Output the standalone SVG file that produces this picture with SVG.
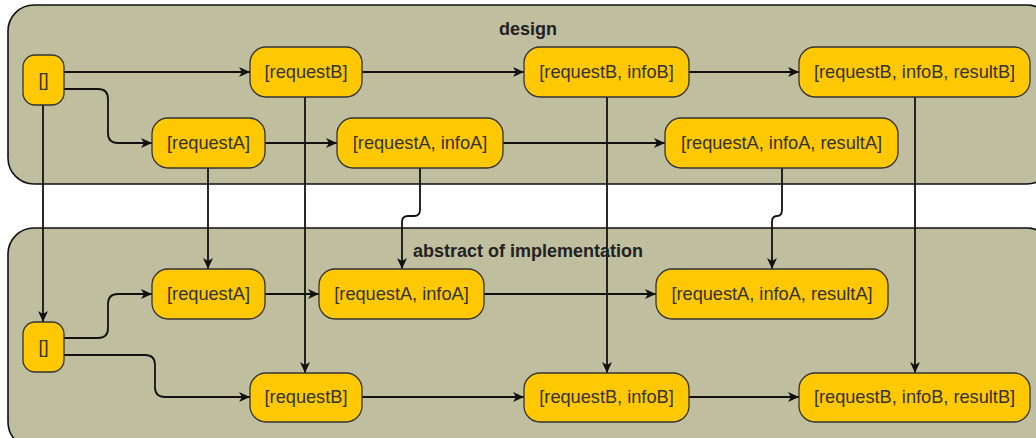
<svg xmlns="http://www.w3.org/2000/svg" width="1036" height="438" viewBox="0 0 1036 438">
  <style>
    .lane { fill: #bfbfa0; stroke: #111; stroke-width: 1.6; }
    .lane-title { font-family: "Liberation Sans", Arial, sans-serif; font-size: 18px; font-weight: bold; fill: #222; text-anchor: middle; }
    .node rect { fill: #ffc800; stroke: #333; stroke-width: 1.3; }
    .node text { font-family: "Liberation Sans", Arial, sans-serif; font-size: 18.2px; fill: #333; text-anchor: middle; }
    .edge { fill: none; stroke: #111; stroke-width: 1.8; marker-end: url(#arrow); }
  </style>
  <defs>
    <marker id="arrow" markerUnits="userSpaceOnUse" markerWidth="12" markerHeight="10" refX="11" refY="5" orient="auto">
      <path d="M0,0 L11,5 L0,10 L3,5 z" fill="#111"/>
    </marker>
  </defs>

  <rect width="1036" height="438" fill="#ffffff"/>

  <!-- swimlanes -->
  <g id="lane-design">
    <rect class="lane" x="8" y="5" width="1045" height="179" rx="26" ry="26"/>
    <text class="lane-title" x="528" y="35">design</text>
  </g>
  <g id="lane-implementation">
    <rect class="lane" x="8" y="228" width="1045" height="220" rx="26" ry="26"/>
  </g>

  <!-- connectors -->
  <g id="connectors">
    <!-- design lane -->
    <path class="edge" d="M64,72 H250"/>
    <path class="edge" d="M64,89 H98 Q108,89 108,99 V133 Q108,143 118,143 H152"/>
    <path class="edge" d="M362,72 H524"/>
    <path class="edge" d="M689,72 H799"/>
    <path class="edge" d="M265,143 H337"/>
    <path class="edge" d="M503,143 H665"/>

    <!-- design to implementation -->
    <path class="edge" d="M43,105 V322"/>
    <path class="edge" d="M208,168 V269"/>
    <path class="edge" d="M305,97 V373"/>
    <path class="edge" d="M420,168 V210 Q420,216 414,216 H408 Q402,216 402,222 V269"/>
    <path class="edge" d="M607,97 V373"/>
    <path class="edge" d="M782,168 V210 Q782,216 777,216 H777 Q772,216 772,222 V269"/>
    <path class="edge" d="M915,97 V373"/>

    <!-- implementation lane -->
    <path class="edge" d="M64,338 H98 Q108,338 108,328 V304 Q108,294 118,294 H152"/>
    <path class="edge" d="M64,355 H145 Q155,355 155,365 V387 Q155,397 165,397 H250"/>
    <path class="edge" d="M265,294 H319"/>
    <path class="edge" d="M484,294 H656"/>
    <path class="edge" d="M362,397 H524"/>
    <path class="edge" d="M689,397 H799"/>
  </g>

  <!-- design nodes -->
  <g id="d-empty" class="node">
    <rect x="23" y="55" width="41" height="50" rx="12"/>
    <text x="43.5" y="86">[]</text>
  </g>
  <g id="d-requestB" class="node">
    <rect x="250" y="47" width="112" height="50" rx="16"/>
    <text x="306" y="78">[requestB]</text>
  </g>
  <g id="d-requestB-infoB" class="node">
    <rect x="524" y="47" width="165" height="50" rx="16"/>
    <text x="606.5" y="78">[requestB, infoB]</text>
  </g>
  <g id="d-requestB-infoB-resultB" class="node">
    <rect x="799" y="47" width="231" height="50" rx="16"/>
    <text x="914.5" y="78">[requestB, infoB, resultB]</text>
  </g>
  <g id="d-requestA" class="node">
    <rect x="152" y="118" width="113" height="50" rx="16"/>
    <text x="208.5" y="149">[requestA]</text>
  </g>
  <g id="d-requestA-infoA" class="node">
    <rect x="337" y="118" width="166" height="50" rx="16"/>
    <text x="420" y="149">[requestA, infoA]</text>
  </g>
  <g id="d-requestA-infoA-resultA" class="node">
    <rect x="665" y="118" width="233" height="50" rx="16"/>
    <text x="781.5" y="149">[requestA, infoA, resultA]</text>
  </g>

  <!-- implementation nodes -->
  <g id="i-empty" class="node">
    <rect x="23" y="322" width="41" height="50" rx="12"/>
    <text x="43.5" y="353">[]</text>
  </g>
  <g id="i-requestA" class="node">
    <rect x="152" y="269" width="113" height="50" rx="16"/>
    <text x="208.5" y="300">[requestA]</text>
  </g>
  <g id="i-requestA-infoA" class="node">
    <rect x="319" y="269" width="165" height="50" rx="16"/>
    <text x="401.5" y="300">[requestA, infoA]</text>
  </g>
  <g id="i-requestA-infoA-resultA" class="node">
    <rect x="656" y="269" width="232" height="50" rx="16"/>
    <text x="772" y="300">[requestA, infoA, resultA]</text>
  </g>
  <g id="i-requestB" class="node">
    <rect x="250" y="373" width="112" height="49" rx="16"/>
    <text x="306" y="403">[requestB]</text>
  </g>
  <g id="i-requestB-infoB" class="node">
    <rect x="524" y="373" width="165" height="49" rx="16"/>
    <text x="606.5" y="403">[requestB, infoB]</text>
  </g>
  <g id="i-requestB-infoB-resultB" class="node">
    <rect x="799" y="373" width="231" height="49" rx="16"/>
    <text x="914.5" y="403">[requestB, infoB, resultB]</text>
  </g>

  <text class="lane-title" x="528" y="257">abstract of implementation</text>
</svg>
